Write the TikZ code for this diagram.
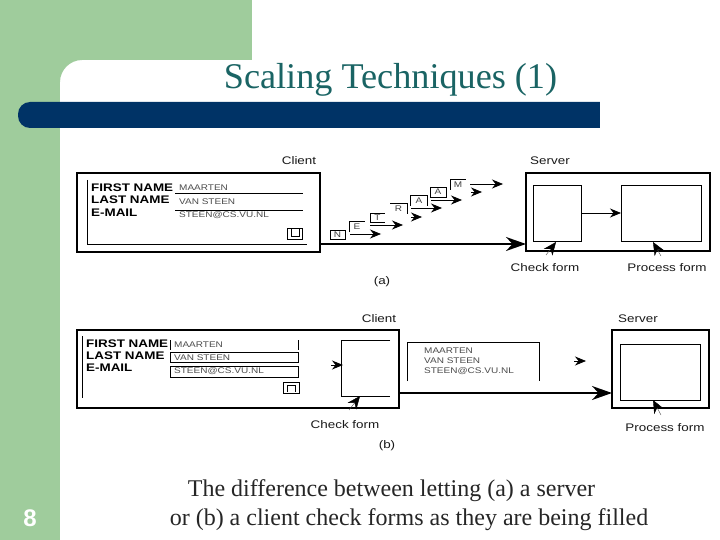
\documentclass[tikz,border=0pt]{standalone}
\usepackage{fontspec}
\setmainfont{Liberation Serif}
\setsansfont{Liberation Sans}
\newfontfamily\widesans[FakeStretch=1.22]{Liberation Sans}
\usetikzlibrary{arrows.meta}
\definecolor{slidegreen}{HTML}{9FCC9C}
\definecolor{slidebar}{HTML}{003366}
\definecolor{slideteal}{HTML}{1A6464}
\newcommand{\bx}[6][]{\pgfmathsetmacro{\bxw}{#5-#3}\pgfmathsetmacro{\bxh}{#6-#4}%
  \node[plainbox,#1,minimum width=\bxw pt,minimum height=\bxh pt,anchor=north west] (#2) at (#3,#4) {};}
\tikzset{
  plainbox/.style={draw=black,line width=0.9pt,inner sep=0pt,outer sep=0pt,fill=none},
  outerbox/.style={line width=1.8pt},
  lbl/.style={font=\widesans\fontsize{11}{13}\selectfont,inner sep=0pt,text=black!90},
  fld/.style={font=\widesans\fontsize{8.2}{10}\selectfont,inner sep=0pt,anchor=west,text=black!70},
  fldname/.style={font=\widesans\bfseries\fontsize{11}{13}\selectfont,inner sep=0pt,anchor=west},
  pkt/.style={font=\widesans\fontsize{8.2}{10}\selectfont,inner sep=0pt,text=black!75},
  thin line/.style={line width=0.8pt},
  thinarrow/.style={line width=0.8pt,-{Stealth[length=11pt,width=9pt]}},
  thickarrow/.style={line width=1.8pt,-{Stealth[length=20pt,width=14pt]}},
  ptrarrow/.style={line width=0.4pt,black!70,-{Stealth[length=13pt,width=11pt,black]}},
}
\begin{document}
\begin{tikzpicture}[x=1pt,y=-1pt]
\useasboundingbox (0,0) rectangle (720,540);
% slide background
\fill[white] (0,0) rectangle (720,540);
\fill[slidegreen] (0,0) rectangle (252,60);
\fill[slidegreen] (0,0) rectangle (60,540);
\fill[slidegreen] (60,60) -- (82,60) .. controls (70,60) and (60,70) .. (60,82) -- cycle;
\fill[slidebar,rounded corners=12pt] (18,102) rectangle (640,128);
\fill[white] (600,100) rectangle (720,130);
\node[font=\fontsize{36.2}{40}\selectfont,text=slideteal,inner sep=0pt] (title) at (390.5,80) {Scaling Techniques (1)};
\node[font=\sffamily\bfseries\fontsize{24}{26}\selectfont,text=white,inner sep=0pt] (pageno) at (30,518) {8};
\node[font=\fontsize{24}{29.5}\selectfont,align=center,inner sep=0pt,text=black!85] (caption) at (409,505) {The difference between letting (a) a server\hspace*{35pt}\\or (b) a client check forms as they are being filled};

% ---------- (a) ----------
\node[lbl] (lclienta) at (299,161) {Client};
\node[lbl] (lservera) at (550,161) {Server};
\node[lbl] (lchecka) at (545,268) {Check form};
\node[lbl] (lproca) at (667,268) {Process form};
\node[lbl] (la) at (382,282) {(a)};
\bx[outerbox]{clienta}{77}{173}{320}{252}
\bx[outerbox]{servera}{526}{173}{710}{251}
\bx{checka}{533}{185}{581}{241}
\bx{proca}{621}{185}{701}{241}
\draw[thin line] (87,180) -- (87,244) -- (307,244);
\node[fldname] (fna) at (91,188) {FIRST NAME};
\node[fldname] (lna) at (91,200) {LAST NAME};
\node[fldname] (ema) at (91,212.5) {E-MAIL};
\node[fld] (va1) at (179,188) {MAARTEN};
\node[fld] (va2) at (179,201.5) {VAN STEEN};
\node[fld] (va3) at (179,215) {STEEN@CS.VU.NL};
\draw[thin line] (175,193) -- (303,193);
\draw[thin line] (175,210) -- (303,210);
\bx{btna}{287}{228}{302}{239}
\draw[thin line] (291,229) -- (291,236) -- (299,236) -- (299,229);
% packets
\node[pkt,draw,line width=0.7pt,minimum width=15pt,minimum height=9pt] (pn) at (337.5,234.5) {N};
\node[pkt] (pe) at (357,226.5) {E};
\draw[thin line] (349,232) -- (349,221) -- (365,221);
\node[pkt] (pt) at (377.5,218) {T};
\draw[thin line] (370,222) -- (370,213) -- (385,213) (370,222) -- (385,222);
\node[pkt] (pr) at (398.5,209) {R};
\draw[thin line] (390,203) -- (407,203) -- (407,214);
\node[pkt] (pa1) at (419,201) {A};
\draw[thin line] (410,206) -- (410,195) -- (427,195) -- (427,206);
\node[pkt,draw,line width=0.7pt,minimum width=16pt,minimum height=10pt] (pa2) at (438,192) {A};
\node[pkt] (pm) at (458,184.5) {M};
\draw[thin line] (450,190) -- (450,179) -- (466,179);
\coordinate (s1) at (350,234); \coordinate (e1) at (381,234);
\coordinate (s2) at (370,225); \coordinate (e2) at (403,225);
\coordinate (s3) at (411,208); \coordinate (e3) at (442,208);
\coordinate (s4) at (431,200); \coordinate (e4) at (462,200);
\coordinate (s5) at (470,184); \coordinate (e5) at (503,184);
\coordinate (s6) at (411,217); \coordinate (e6) at (422,217);
\coordinate (s7) at (471,192); \coordinate (e7) at (482,192);
\draw[thinarrow] (s1) -- (e1);
\draw[thinarrow] (s2) -- (e2);
\draw[thinarrow] (s3) -- (e3);
\draw[thinarrow] (s4) -- (e4);
\draw[thinarrow] (s5) -- (e5);
\draw[thinarrow] (s6) -- (e6);
\draw[thinarrow] (s7) -- (e7);
\draw[thinarrow] (checka.east) -- (proca.west);
\coordinate (ta1) at (320,244); \coordinate (ta2) at (526,244);
\draw[thickarrow] (ta1) -- (ta2);
\coordinate (pca1) at (546,255); \coordinate (pca2) at (556,242);
\coordinate (ppa1) at (661,256); \coordinate (ppa2) at (653,242);
\draw[ptrarrow] (pca1) -- (pca2);
\draw[ptrarrow] (ppa1) -- (ppa2);

% ---------- (b) ----------
\node[lbl] (lclientb) at (379,319) {Client};
\node[lbl] (lserverb) at (638,319) {Server};
\node[lbl] (lcheckb) at (345,425) {Check form};
\node[lbl] (lprocb) at (665,428) {Process form};
\node[lbl] (lb) at (387,446) {(b)};
\bx[outerbox]{clientb}{77}{330}{399}{408}
\bx[outerbox]{serverb}{612}{330}{709}{408}
\bx{procb}{620}{344}{700}{400}
\draw[thin line] (82,336) -- (82,398);
\node[fldname] (fnb) at (86,344) {FIRST NAME};
\node[fldname] (lnb) at (86,356) {LAST NAME};
\node[fldname] (emb) at (86,368) {E-MAIL};
\node[fld] (vb1) at (174,345) {MAARTEN};
\node[fld] (vb2) at (174,357.5) {VAN STEEN};
\node[fld] (vb3) at (174,371.5) {STEEN@CS.VU.NL};
\draw[thin line] (170,340) -- (170,350) (298,340) -- (298,350);
\bx{fieldb2}{170}{352}{298}{362}
\bx{fieldb3}{170}{366}{298}{377}
\bx{btnb}{283}{382}{299}{393}
\draw[thin line] (287,392) -- (287,385) -- (295,385) -- (295,392);
\draw[thin line] (390,340) -- (341,340) -- (341,396) -- (390,396);
\coordinate (cin1) at (331,365); \coordinate (cin2) at (343,365);
\draw[thinarrow] (cin1) -- (cin2);
\draw[thin line] (407,381) -- (407,342) -- (539,342) -- (539,381);
\node[fld] (m1) at (424,351) {MAARTEN};
\node[fld] (m2) at (424,361) {VAN STEEN};
\node[fld] (m3) at (424,371) {STEEN@CS.VU.NL};
\coordinate (h1) at (574,361); \coordinate (h2) at (586,361);
\draw[thinarrow] (h1) -- (h2);
\coordinate (tb1) at (399,393); \coordinate (tb2) at (612,393);
\draw[thickarrow] (tb1) -- (tb2);
\coordinate (pcb1) at (349,410); \coordinate (pcb2) at (360,396);
\coordinate (ppb1) at (661,415); \coordinate (ppb2) at (653,400);
\draw[ptrarrow] (pcb1) -- (pcb2);
\draw[ptrarrow] (ppb1) -- (ppb2);
\end{tikzpicture}
\end{document}
